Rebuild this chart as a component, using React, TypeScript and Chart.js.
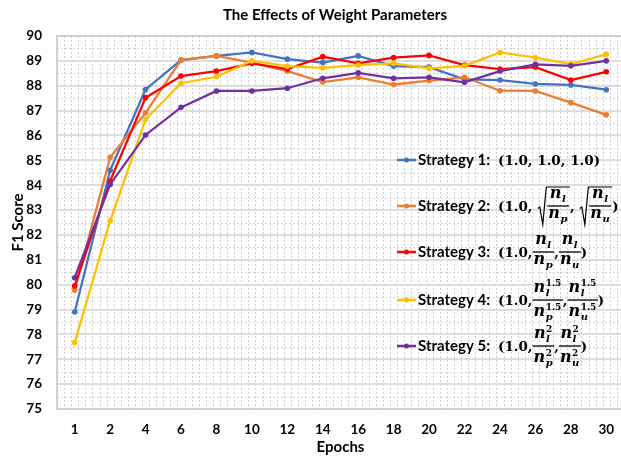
import React, { useEffect, useRef } from 'react';
import { Chart, registerables } from 'chart.js';
Chart.register(...registerables);

const epochs = ['1', '2', '4', '6', '8', '10', '12', '14', '16', '18', '20', '22', '24', '26', '28', '30'];
const strategy1 = [78.9, 84.6, 87.85, 89.03, 89.2, 89.34, 89.07, 88.93, 89.2, 88.79, 88.75, 88.26, 88.23, 88.07, 88.03, 87.84];
const strategy2 = [79.78, 85.12, 86.91, 89.03, 89.2, 88.93, 88.59, 88.15, 88.34, 88.05, 88.21, 88.34, 87.8, 87.79, 87.32, 86.83];
const strategy3 = [79.95, 84.17, 87.52, 88.39, 88.59, 88.9, 88.67, 89.17, 88.9, 89.13, 89.22, 88.83, 88.67, 88.75, 88.23, 88.56];
const strategy4 = [77.67, 82.57, 86.65, 88.1, 88.36, 89.0, 88.79, 88.72, 88.83, 88.9, 88.7, 88.8, 89.34, 89.13, 88.87, 89.26];
const strategy5 = [80.28, 84.03, 86.02, 87.13, 87.79, 87.79, 87.9, 88.3, 88.52, 88.3, 88.34, 88.14, 88.59, 88.86, 88.8, 89.0];

const seriesNames = ['Strategy 1:', 'Strategy 2:', 'Strategy 3:', 'Strategy 4:', 'Strategy 5:'];
const seriesColors = ['#4472C4', '#ED7D31', '#FF0000', '#FFC000', '#7030A0'];
const seriesData = [strategy1, strategy2, strategy3, strategy4, strategy5];

const chartTitle = 'The Effects of Weight Parameters';
const yTitle = 'F1 Score';
const xTitle = 'Epochs';
const yMin = 75;
const yMax = 90;

type El =
  | { k: 't'; s: string }
  | { k: 'v'; sub: string; sup?: string }
  | { k: 'f'; n: El; d: El }
  | { k: 'r'; b: El };
type M = { w: number; a: number; d: number };

const T = (s: string): El => ({ k: 't', s });
const V = (sub: string, sup?: string): El => ({ k: 'v', sub, sup });
const Fr = (n: El, d: El): El => ({ k: 'f', n, d });
const Sq = (b: El): El => ({ k: 'r', b });

const formulas: El[][] = [
  [T('(1.0, 1.0, 1.0)')],
  [T('(1.0, '), Sq(Fr(V('l'), V('p'))), T(', '), Sq(Fr(V('l'), V('u'))), T(')')],
  [T('(1.0,'), Fr(V('l'), V('p')), T(','), Fr(V('l'), V('u')), T(')')],
  [T('(1.0,'), Fr(V('l', '1.5'), V('p', '1.5')), T(','), Fr(V('l', '1.5'), V('u', '1.5')), T(')')],
  [T('(1.0,'), Fr(V('l', '2'), V('p', '2')), T(','), Fr(V('l', '2'), V('u', '2')), T(')')],
];

const FONT_T = 'bold 13.5px "DejaVu Serif"';
const FONT_V = 'italic bold 16px "DejaVu Serif"';
const FONT_S = 'italic bold 10px "DejaVu Serif"';
const FONT_P = 'bold 9px "DejaVu Serif"';
const AX = 4.5;
const G = 3;

function meas(ctx: CanvasRenderingContext2D, e: El): M {
  if (e.k === 't') {
    ctx.font = FONT_T;
    return { w: ctx.measureText(e.s).width, a: 10, d: 3 };
  }
  if (e.k === 'v') {
    ctx.font = FONT_V;
    const wb = ctx.measureText('n').width;
    ctx.font = FONT_S;
    const ws = ctx.measureText(e.sub).width;
    let wp = 0;
    if (e.sup) {
      ctx.font = FONT_P;
      wp = ctx.measureText(e.sup).width;
    }
    return { w: wb + Math.max(ws, wp) + 1, a: e.sup ? 13 : 9, d: 5 };
  }
  if (e.k === 'f') {
    const n = meas(ctx, e.n);
    const d = meas(ctx, e.d);
    return { w: Math.max(n.w, d.w) + 2, a: AX + G + n.d + n.a, d: G + d.a + d.d - AX };
  }
  const b = meas(ctx, e.b);
  return { w: b.w + 11, a: b.a + 3, d: b.d + 2 };
}

function drawEl(ctx: CanvasRenderingContext2D, e: El, x: number, y: number) {
  const m = meas(ctx, e);
  ctx.textAlign = 'left';
  ctx.textBaseline = 'alphabetic';
  if (e.k === 't') {
    ctx.font = FONT_T;
    ctx.fillText(e.s, x, y);
  } else if (e.k === 'v') {
    ctx.font = FONT_V;
    const wb = ctx.measureText('n').width;
    ctx.fillText('n', x, y);
    ctx.font = FONT_S;
    ctx.fillText(e.sub, x + wb + 0.5, y + 4);
    if (e.sup) {
      ctx.font = FONT_P;
      ctx.fillText(e.sup, x + wb + 0.5, y - 6.5);
    }
  } else if (e.k === 'f') {
    const n = meas(ctx, e.n);
    const d = meas(ctx, e.d);
    ctx.beginPath();
    ctx.lineWidth = 1.3;
    ctx.moveTo(x, y - AX);
    ctx.lineTo(x + m.w, y - AX);
    ctx.stroke();
    drawEl(ctx, e.n, x + (m.w - n.w) / 2, y - AX - G - n.d);
    drawEl(ctx, e.d, x + (m.w - d.w) / 2, y - AX + G + d.a);
  } else {
    const b = meas(ctx, e.b);
    const top = y - b.a - 2;
    const bottom = y + b.d + 1.5;
    ctx.beginPath();
    ctx.lineWidth = 1.2;
    ctx.moveTo(x + 0.5, y - 2);
    ctx.lineTo(x + 2.5, y - 3.5);
    ctx.lineTo(x + 5.5, bottom);
    ctx.lineTo(x + 9, top);
    ctx.lineTo(x + m.w, top);
    ctx.stroke();
    drawEl(ctx, e.b, x + 10, y);
  }
}

const decorPlugin = {
  id: 'decor',
  beforeDatasetsDraw(chart: any) {
    const { ctx, chartArea } = chart;
    const { left, right, top, bottom } = chartArea;
    const y = chart.scales.y;
    ctx.save();
    ctx.lineWidth = 1;
    ctx.setLineDash([2, 2]);
    ctx.strokeStyle = '#cfcfcf';
    const n = epochs.length * 5;
    const step = (right - left) / n;
    for (let k = 1; k < n; k++) {
      const x = Math.round(left + k * step) + 0.5;
      ctx.beginPath();
      ctx.moveTo(x, top);
      ctx.lineTo(x, bottom);
      ctx.stroke();
    }
    ctx.strokeStyle = '#d8d8d8';
    for (let v = yMin + 0.5; v < yMax; v += 1) {
      const py = Math.round(y.getPixelForValue(v)) + 0.5;
      ctx.beginPath();
      ctx.moveTo(left, py);
      ctx.lineTo(right, py);
      ctx.stroke();
    }
    ctx.setLineDash([]);
    ctx.strokeStyle = '#dedede';
    ctx.lineWidth = 2;
    for (let v = yMin + 1; v < yMax; v += 1) {
      const py = Math.round(y.getPixelForValue(v));
      ctx.beginPath();
      ctx.moveTo(left, py);
      ctx.lineTo(right, py);
      ctx.stroke();
    }
    ctx.strokeStyle = '#c4c4c4';
    ctx.lineWidth = 1.5;
    ctx.strokeRect(left, top, right - left, bottom - top);
    ctx.restore();
  },
  afterDraw(chart: any) {
    const { ctx } = chart;
    ctx.save();
    ctx.fillStyle = '#000';
    ctx.font = 'bold 15px Lato';
    ctx.textAlign = 'center';
    ctx.textBaseline = 'middle';
    ctx.fillText(chartTitle, 335, 15);

    const rows = [160, 206, 252, 300, 346];
    rows.forEach((ry, i) => {
      ctx.strokeStyle = seriesColors[i];
      ctx.fillStyle = seriesColors[i];
      ctx.lineWidth = 2.5;
      ctx.beginPath();
      ctx.moveTo(397, ry);
      ctx.lineTo(416, ry);
      ctx.stroke();
      ctx.beginPath();
      ctx.arc(406.5, ry, 2.5, 0, Math.PI * 2);
      ctx.fill();
      ctx.fillStyle = '#000';
      ctx.strokeStyle = '#000';
      ctx.font = 'bold 15px Lato';
      ctx.textAlign = 'left';
      ctx.textBaseline = 'middle';
      ctx.fillText(seriesNames[i], 418, ry);
      let x = 498;
      formulas[i].forEach((el) => {
        const m = meas(ctx, el);
        drawEl(ctx, el, x, ry + AX);
        x += m.w;
      });
    });
    ctx.restore();
  },
};

export default function App() {
  const ref = useRef<HTMLCanvasElement>(null);
  useEffect(() => {
    const chart = new Chart(ref.current!, {
      type: 'line',
      data: {
        labels: epochs,
        datasets: seriesData.map((d, i) => ({
          label: seriesNames[i],
          data: d,
          borderColor: seriesColors[i],
          backgroundColor: seriesColors[i],
          borderWidth: 2.25,
          pointRadius: 2.8,
          pointBorderWidth: 0,
          pointBackgroundColor: seriesColors[i],
          tension: 0,
          order: 5 - i,
        })),
      },
      options: {
        responsive: false,
        animation: false,
        devicePixelRatio: 1,
        layout: { padding: { left: 0, right: 16, top: 36, bottom: 0 } },
        plugins: { legend: { display: false }, title: { display: false }, tooltip: { enabled: false } },
        scales: {
          x: {
            type: 'category',
            offset: true,
            grid: { display: false, drawTicks: false },
            border: { display: false },
            ticks: { color: '#000', font: { family: 'Lato', weight: 'bold', size: 13.5 }, padding: 13, autoSkip: false, maxRotation: 0 },
            title: { display: true, text: xTitle, color: '#000', font: { family: 'Lato', weight: 'bold', size: 15 }, padding: { top: 0, bottom: 0 } },
            afterFit: (s: any) => { s.height = 47; },
          },
          y: {
            min: yMin,
            max: yMax,
            grid: { display: false, drawTicks: false },
            border: { display: false },
            ticks: { stepSize: 1, color: '#000', font: { family: 'Lato', weight: 'bold', size: 13.5 }, padding: 15 },
            title: { display: true, text: yTitle, color: '#000', font: { family: 'Lato', weight: 'bold', size: 15 }, padding: { top: 9, bottom: 0 } },
            afterFit: (s: any) => { s.width = 57; },
          },
        },
      },
      plugins: [decorPlugin],
    });
    return () => chart.destroy();
  }, []);
  return (
    <div style={{ position: 'absolute', left: 0, top: 0, width: 621, height: 456, overflow: 'hidden', background: '#fff' }}>
      <canvas ref={ref} width={640} height={456} style={{ display: 'block', width: 640, height: 456 }} />
    </div>
  );
}
